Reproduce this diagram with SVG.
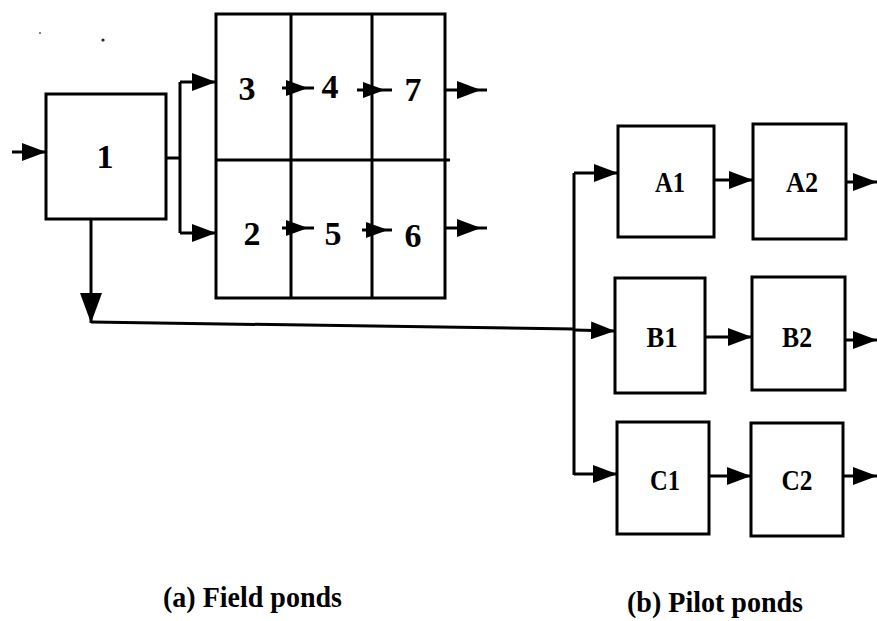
<svg xmlns="http://www.w3.org/2000/svg" width="877" height="621" viewBox="0 0 877 621">
<style>
.box{fill:none;stroke:#000;stroke-width:3}
.ln{fill:none;stroke:#000;stroke-width:3}
.arr{fill:none;stroke:#000;stroke-width:3;marker-end:url(#ah)}
.num{font-family:"Liberation Serif","Times New Roman",serif;font-size:34px;font-weight:bold;text-anchor:middle;fill:#000}
.lab{font-family:"Liberation Serif","Times New Roman",serif;font-size:29px;font-weight:bold;text-anchor:middle;fill:#000}
.cap{font-family:"Liberation Serif","Times New Roman",serif;font-size:30px;font-weight:bold;fill:#000}
.head{fill:#000}
</style>
<defs>
<marker id="ah" markerUnits="userSpaceOnUse" markerWidth="24" markerHeight="18" refX="24" refY="9" orient="auto">
<path d="M0,0 L24,9 L0,18 z" fill="#000"/>
</marker>
<marker id="ahBig" markerUnits="userSpaceOnUse" markerWidth="30" markerHeight="22" refX="30" refY="11" orient="auto">
<path d="M0,0 L30,11 L0,22 z" fill="#000"/>
</marker>
</defs>
<rect width="877" height="621" fill="#fff"/>
<circle cx="40" cy="33" r="1" fill="#555"/>
<circle cx="103" cy="40" r="1.6" fill="#222"/>

<g id="node-1">
<rect class="box" x="46" y="94" width="120" height="125"/>
<text class="num" x="105" y="168">1</text>
</g>

<g id="field-grid">
<rect class="box" x="216" y="14" width="229" height="284"/>
<line class="ln" x1="216" y1="160" x2="450" y2="160"/>
<line class="ln" x1="291" y1="14" x2="291" y2="298"/>
<line class="ln" x1="372" y1="14" x2="372" y2="298"/>
</g>
<g id="node-3"><text class="num" x="247" y="100">3</text></g>
<g id="node-4"><text class="num" x="330" y="98">4</text></g>
<g id="node-7"><text class="num" x="413" y="101">7</text></g>
<g id="node-2"><text class="num" x="252" y="245">2</text></g>
<g id="node-5"><text class="num" x="333" y="245">5</text></g>
<g id="node-6"><text class="num" x="413" y="247">6</text></g>

<g id="node-A1"><rect class="box" x="618" y="126" width="96" height="111"/><text class="lab" x="670" y="192" textLength="30" lengthAdjust="spacingAndGlyphs">A1</text></g>
<g id="node-A2"><rect class="box" x="753" y="124" width="93" height="115"/><text class="lab" x="802" y="192" textLength="32" lengthAdjust="spacingAndGlyphs">A2</text></g>
<g id="node-B1"><rect class="box" x="615" y="278" width="90" height="115"/><text class="lab" x="662" y="347" textLength="31" lengthAdjust="spacingAndGlyphs">B1</text></g>
<g id="node-B2"><rect class="box" x="752" y="277" width="93" height="113"/><text class="lab" x="797" y="347" textLength="30" lengthAdjust="spacingAndGlyphs">B2</text></g>
<g id="node-C1"><rect class="box" x="617" y="422" width="92" height="112"/><text class="lab" x="665" y="490" textLength="30" lengthAdjust="spacingAndGlyphs">C1</text></g>
<g id="node-C2"><rect class="box" x="751" y="423" width="92" height="113"/><text class="lab" x="797" y="490" textLength="31" lengthAdjust="spacingAndGlyphs">C2</text></g>

<g id="connectors">
<line class="arr" x1="12" y1="152" x2="46" y2="152"/>
<polyline class="ln" points="166,158 180,158"/>
<polyline class="ln" points="180,82 180,233"/>
<line class="arr" x1="180" y1="82" x2="216" y2="82"/>
<line class="arr" x1="180" y1="233" x2="216" y2="233"/>
<line class="ln" x1="282" y1="88" x2="314" y2="88"/>
<path class="head" d="M286,80 L308,88 L286,96 z"/>
<line class="ln" x1="357" y1="90" x2="392" y2="90"/>
<path class="head" d="M363,82 L385,90 L363,98 z"/>
<line class="ln" x1="282" y1="228" x2="314" y2="228"/>
<path class="head" d="M286,220 L308,228 L286,236 z"/>
<line class="ln" x1="362" y1="230" x2="392" y2="230"/>
<path class="head" d="M366,222 L388,230 L366,238 z"/>
<line class="ln" x1="446" y1="90" x2="487" y2="90"/>
<path class="head" d="M457,81 L481,90 L457,99 z"/>
<line class="ln" x1="446" y1="228" x2="487" y2="228"/>
<path class="head" d="M457,219 L481,228 L457,237 z"/>
<line x1="91" y1="219" x2="91" y2="323" stroke="#000" stroke-width="3" marker-end="url(#ahBig)"/>
<line class="ln" x1="91" y1="322" x2="574" y2="329"/>
<line class="ln" x1="574" y1="173" x2="574" y2="475"/>
<line class="arr" x1="574" y1="173" x2="618" y2="173"/>
<line class="arr" x1="574" y1="330" x2="615" y2="331"/>
<line class="arr" x1="574" y1="474" x2="617" y2="474"/>
<line class="arr" x1="714" y1="180" x2="753" y2="180"/>
<line class="arr" x1="846" y1="182" x2="877" y2="182"/>
<line class="arr" x1="705" y1="337" x2="752" y2="337"/>
<line class="arr" x1="845" y1="340" x2="877" y2="340"/>
<line class="arr" x1="709" y1="476" x2="751" y2="476"/>
<line class="arr" x1="843" y1="476" x2="877" y2="476"/>
</g>

<g id="captions">
<text class="cap" x="163" y="607" textLength="179" lengthAdjust="spacingAndGlyphs">(a) Field ponds</text>
<text class="cap" x="627" y="612" textLength="176" lengthAdjust="spacingAndGlyphs">(b) Pilot ponds</text>
</g>
</svg>
